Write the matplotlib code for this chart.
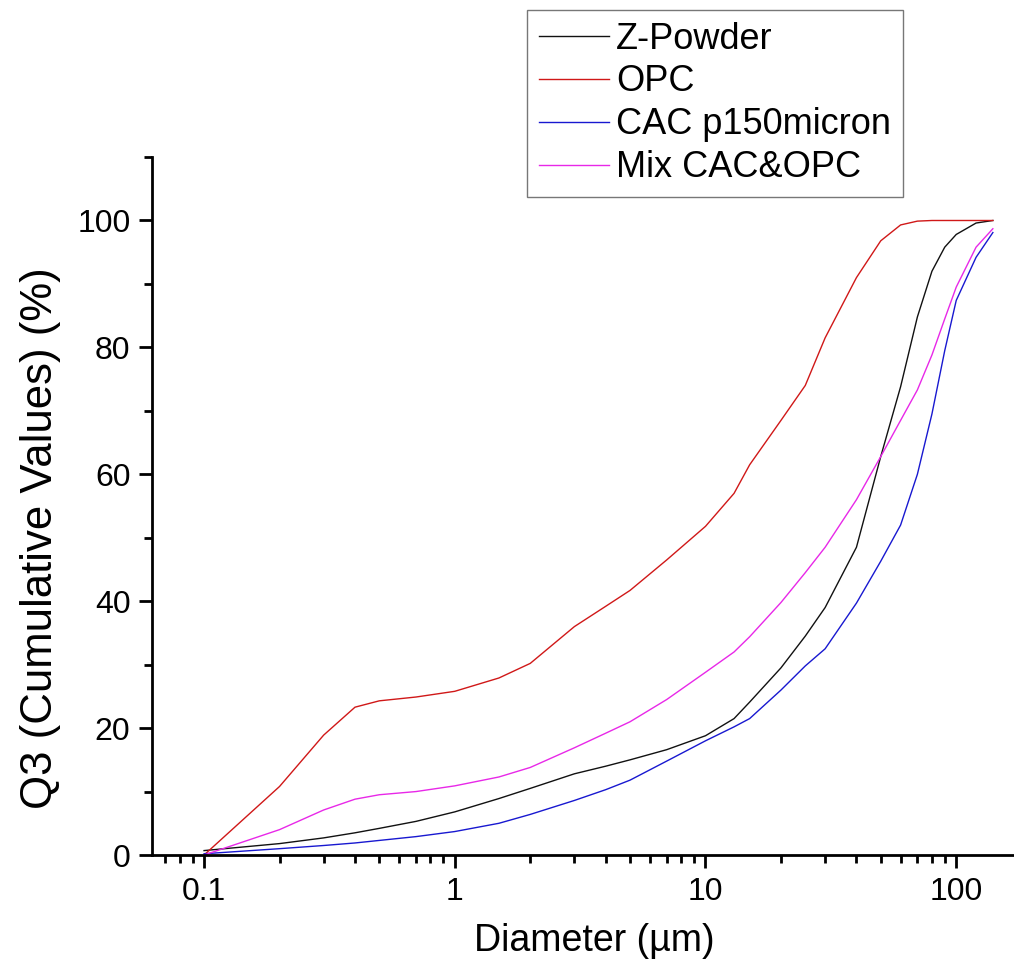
import numpy as np
import matplotlib.pyplot as plt
from matplotlib.ticker import FixedLocator, LogLocator, NullFormatter

plt.rcParams['font.family'] = ['Liberation Sans', 'DejaVu Sans']

# particle diameter (um)
diameter = [0.1, 0.2, 0.3, 0.4, 0.5, 0.7, 1, 1.5, 2, 3, 4, 5, 7, 10, 13, 15,
            20, 25, 30, 40, 50, 60, 70, 80, 90, 100, 120, 140]

# cumulative Q3 (%)
z_powder = [0.7, 1.8, 2.7, 3.5, 4.2, 5.3, 6.8, 8.9, 10.5, 12.8, 14.0, 15.0, 16.6,
            18.8, 21.5, 24.1, 29.5, 34.5, 39.0, 48.5, 62.8, 73.8, 84.8, 92.0,
            95.8, 97.8, 99.6, 100.0]
opc = [0.0, 10.8, 18.9, 23.3, 24.3, 24.9, 25.8, 27.9, 30.2, 36.0, 39.2, 41.7,
       46.5, 51.8, 57.0, 61.5, 68.5, 74.0, 81.5, 91.0, 96.8, 99.3, 99.9, 100.0,
       100.0, 100.0, 100.0, 100.0]
cac = [0.2, 1.0, 1.5, 1.9, 2.3, 2.9, 3.7, 5.0, 6.4, 8.6, 10.3, 11.8, 14.8, 18.0,
       20.2, 21.5, 26.0, 29.8, 32.5, 39.7, 46.3, 52.0, 60.0, 69.5, 79.5, 87.4,
       94.2, 98.1]
mix = [0.0, 4.0, 7.1, 8.8, 9.5, 10.0, 10.9, 12.3, 13.8, 16.9, 19.2, 21.0, 24.5,
       28.8, 32.0, 34.4, 39.8, 44.5, 48.5, 56.0, 62.8, 68.5, 73.3, 78.8, 84.5,
       89.5, 95.8, 98.7]

labels = ['Z-Powder', 'OPC', 'CAC p150micron', 'Mix CAC&OPC']
colors = ['#111111', '#d01818', '#1818d0', '#e828e8']

fig = plt.figure(figsize=(10.14, 9.67), dpi=100)
ax = fig.add_axes([0.1499, 0.1158, 0.8501, 0.7218])

for ys, lab, c in zip([z_powder, opc, cac, mix], labels, colors):
    ax.plot(diameter, ys, color=c, lw=1.0, label=lab)

ax.set_xscale('log')
ax.set_xlim(0.062, 170)
ax.set_ylim(0, 110)

ax.set_yticks([0, 20, 40, 60, 80, 100])
ax.yaxis.set_minor_locator(FixedLocator([10, 30, 50, 70, 90, 110]))
ax.xaxis.set_major_locator(FixedLocator([0.1, 1, 10, 100]))
ax.set_xticklabels(['0.1', '1', '10', '100'])
ax.xaxis.set_minor_locator(LogLocator(base=10, subs=np.arange(2, 10)))
ax.xaxis.set_minor_formatter(NullFormatter())

for s in ['top', 'right']:
    ax.spines[s].set_visible(False)
for s in ['left', 'bottom']:
    ax.spines[s].set_linewidth(2)

ax.tick_params(which='major', direction='out', length=9.5, width=2,
               labelsize=23, pad=6)
ax.tick_params(which='minor', direction='out', length=5.5, width=2)

ax.set_xlabel('Diameter (µm)', fontsize=27, labelpad=12, x=0.513)
ax.set_ylabel('Q3 (Cumulative Values) (%)', fontsize=31.5, labelpad=12,
              y=50 / 110)

leg = fig.legend(loc='upper left', bbox_to_anchor=(0.5197, 0.9897),
                 fontsize=26, frameon=True, fancybox=False, handlelength=1.95,
                 handletextpad=0.2, labelspacing=0.22, borderpad=0.32,
                 borderaxespad=0)
leg.get_frame().set_edgecolor('#555555')
leg.get_frame().set_linewidth(1.0)

fig.savefig('out.png', dpi=100)
